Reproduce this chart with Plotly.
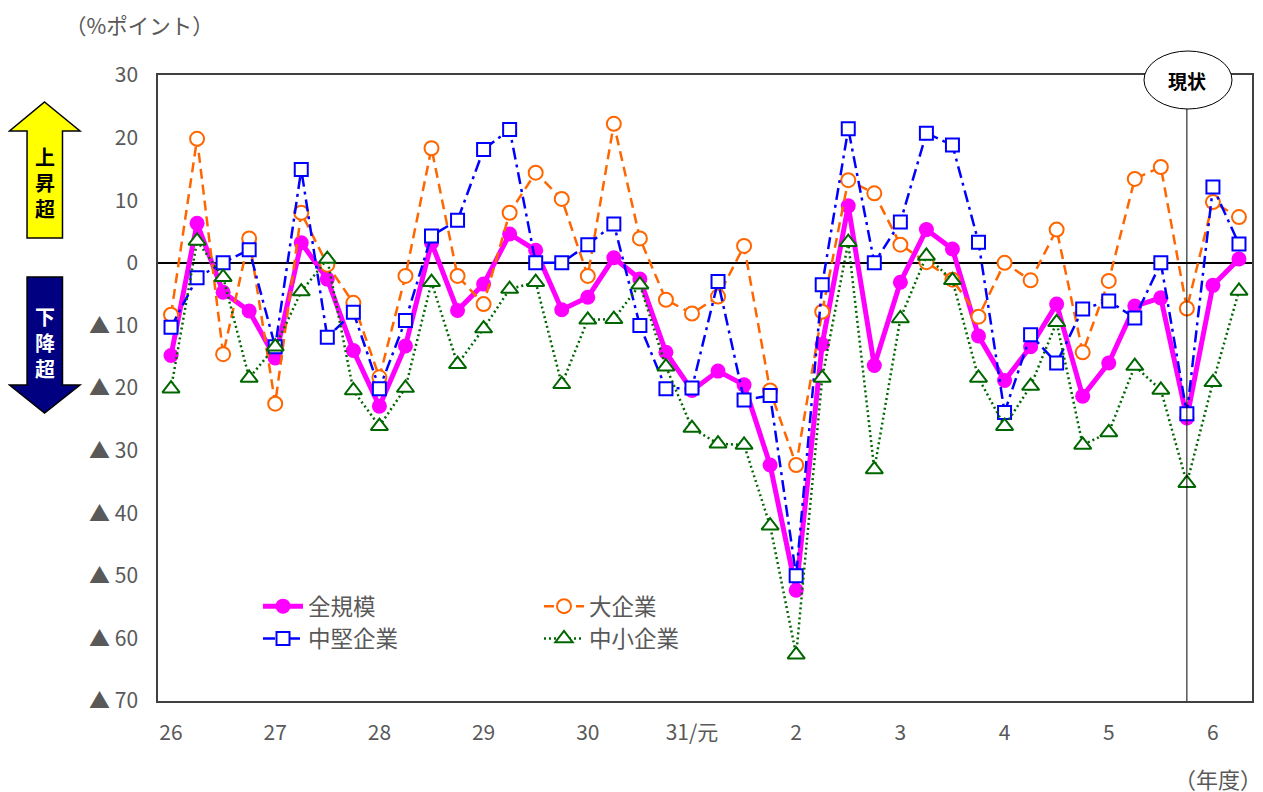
import plotly.graph_objects as go

# 年度ラベル（各年度の最初の四半期に置く）
year_labels = ["26", "27", "28", "29", "30", "31/元", "2", "3", "4", "5", "6"]
quarters = list(range(42))
current_q = 39  # 現状

# BSI（%ポイント）
all_sizes = [-14.8, 6.3, -4.7, -7.7, -15.2, 3.2, -2.6, -14.0, -22.9, -13.3,
             3.2, -7.6, -3.4, 4.6, 2.0, -7.5, -5.5, 0.8, -2.6, -14.3,
             -20.4, -17.3, -19.5, -32.3, -52.3, -13.0, 9.1, -16.4, -3.1, 5.3,
             2.2, -11.7, -18.8, -13.4, -6.6, -21.3, -16.0, -6.9, -5.6, -24.8,
             -3.6, 0.6]
large = [-8.3, 19.8, -14.6, 3.9, -22.5, 8.0, -0.3, -6.4, -18.3, -2.1,
         18.3, -2.1, -6.6, 8.0, 14.4, 10.2, -2.1, 22.2, 3.9, -5.9,
         -8.1, -5.4, 2.7, -20.4, -32.3, -7.8, 13.2, 11.1, 2.9, 0.1,
         -2.7, -8.6, 0.0, -2.8, 5.3, -14.3, -2.9, 13.4, 15.3, -7.3,
         9.7, 7.3]
medium = [-10.3, -2.4, 0.0, 2.1, -13.4, 14.9, -11.9, -7.9, -20.1, -9.2,
          4.3, 6.8, 18.1, 21.3, 0.0, 0.0, 2.9, 6.2, -10.0, -20.1,
          -20.0, -3.0, -21.9, -21.2, -50.0, -3.5, 21.4, 0.0, 6.5, 20.7,
          18.8, 3.3, -23.9, -11.5, -16.0, -7.4, -6.1, -8.8, 0.0, -24.1,
          12.1, 3.0]
small = [-20.1, 3.5, -2.3, -18.4, -13.4, -4.6, 0.6, -20.4, -26.1, -20.0,
         -3.1, -16.2, -10.5, -4.2, -3.1, -19.4, -9.1, -9.0, -3.5, -16.6,
         -26.4, -28.9, -29.1, -42.0, -62.6, -18.4, 3.3, -33.0, -8.9, 1.1,
         -2.8, -18.4, -26.1, -19.7, -9.5, -29.1, -27.1, -16.5, -20.3, -35.2,
         -19.1, -4.5]

y_vals = [30, 20, 10, 0, -10, -20, -30, -40, -50, -60, -70]
y_text = ["30", "20", "10", "0", "▲ 10", "▲ 20", "▲ 30", "▲ 40", "▲ 50", "▲ 60", "▲ 70"]

FONT = "Noto Sans CJK JP, Noto Sans, sans-serif"
GRAY = "#595959"

# 画面上のプロット領域（ページの余白 8px を差し引く）
OFF = 8
W, H = 1263, 792
L, T = 158 - OFF, 75 - OFF
R, B = W - (1252 - OFF), H - (701 - OFF)
PW, PH = W - L - R, H - T - B


def px(x):
    return (x - OFF - L) / PW


def py(y):
    return (H - B - (y - OFF)) / PH


def path(points):
    return "M" + "L".join(f"{px(x):.4f},{py(y):.4f}" for x, y in points) + "Z"


fig = go.Figure()

# 1) 系列（後に描く系列が上）
fig.add_trace(go.Scatter(
    x=quarters, y=all_sizes, name="全規模", mode="lines+markers",
    line=dict(color="#FF00FF", width=5),
    marker=dict(symbol="circle", size=15, color="#FF00FF"),
    legend="legend"
))
fig.add_trace(go.Scatter(
    x=quarters, y=large, name="大企業", mode="lines+markers",
    line=dict(color="#FF6600", width=2.5, dash="10px,6px"),
    marker=dict(symbol="circle", size=14, color="white",
                line=dict(color="#FF6600", width=2)),
    legend="legend2"
))
fig.add_trace(go.Scatter(
    x=quarters, y=medium, name="中堅企業", mode="lines+markers",
    line=dict(color="#0000FF", width=2.5, dash="12px,5px,3px,5px"),
    marker=dict(symbol="square", size=13, color="white",
                line=dict(color="#0000FF", width=2)),
    legend="legend"
))
fig.add_trace(go.Scatter(
    x=quarters, y=small, name="中小企業", mode="lines+markers",
    line=dict(color="#006600", width=2.5, dash="2px,3px"),
    marker=dict(symbol="triangle-up", size=15, color="white",
                line=dict(color="#006600", width=2)),
    legend="legend2"
))

shapes = [
    # 現状の縦線
    dict(type="line", xref="x", yref="paper", x0=current_q, x1=current_q,
         y0=0, y1=py(108), line=dict(color="black", width=1)),
    # 現状の楕円
    dict(type="circle", xref="paper", yref="paper",
         x0=px(1144), x1=px(1232), y0=py(109), y1=py(51),
         fillcolor="white", line=dict(color="black", width=1)),
    # 上昇超の矢印
    dict(type="path", xref="paper", yref="paper",
         path=path([(44.5, 102), (80, 131), (62.5, 131), (62.5, 238),
                    (27, 238), (27, 131), (9.5, 131)]),
         fillcolor="#FFFF00", line=dict(color="black", width=1.5)),
    # 下降超の矢印
    dict(type="path", xref="paper", yref="paper",
         path=path([(27, 277), (62.5, 277), (62.5, 385), (80, 385),
                    (44.5, 413), (9.5, 385), (27, 385)]),
         fillcolor="#000080", line=dict(color="black", width=1.5)),
]

annotations = [
    dict(text="（%ポイント）", xref="paper", yref="paper", x=px(139), y=py(25),
         xanchor="center", yanchor="middle", showarrow=False,
         font=dict(size=21.5, color=GRAY)),
    dict(text="（年度）", xref="paper", yref="paper", x=px(1264), y=py(778),
         xanchor="right", yanchor="middle", showarrow=False,
         font=dict(size=22, color=GRAY)),
    dict(text="<b>現状</b>", xref="x", yref="paper", x=current_q, y=py(80),
         xanchor="center", yanchor="middle", showarrow=False,
         font=dict(size=19, color="black")),
    # 矢印の中の縦書き
    dict(text="<b>上<br>昇<br>超</b>", xref="paper", yref="paper",
         x=px(44.5), y=py(182), xanchor="center", yanchor="middle",
         showarrow=False, font=dict(size=20, color="black")),
    dict(text="<b>下<br>降<br>超</b>", xref="paper", yref="paper",
         x=px(44.5), y=py(342), xanchor="center", yanchor="middle",
         showarrow=False, font=dict(size=20, color="white")),
]

legend_style = dict(bgcolor="rgba(0,0,0,0)", font=dict(size=22.5, color=GRAY),
                    xanchor="left", yanchor="top", tracegroupgap=0, itemwidth=40)

fig.update_layout(
    width=W, height=H,
    margin=dict(l=L, r=R, t=T, b=B),
    paper_bgcolor="white", plot_bgcolor="white",
    font=dict(family=FONT, color=GRAY),
    showlegend=True,
    legend=dict(x=px(258), y=py(585), **legend_style),
    legend2=dict(x=px(539), y=py(585), **legend_style),
    xaxis=dict(
        range=[-0.5, 41.5], tickmode="array",
        tickvals=quarters[::4], ticktext=year_labels,
        showgrid=False, zeroline=False, ticks="",
        showline=True, mirror=True, linecolor="#404040", linewidth=1.5,
        tickfont=dict(size=21, color=GRAY), ticklabelstandoff=12
    ),
    yaxis=dict(
        range=[-70, 30], tickmode="array", tickvals=y_vals, ticktext=y_text,
        showgrid=False, zeroline=True, zerolinecolor="black", zerolinewidth=1.5,
        ticks="", showline=True, mirror=True, linecolor="#404040", linewidth=1.5,
        tickfont=dict(size=21, color=GRAY), ticklabelstandoff=14
    ),
    shapes=shapes,
    annotations=annotations,
)

fig.write_html("out.html")
